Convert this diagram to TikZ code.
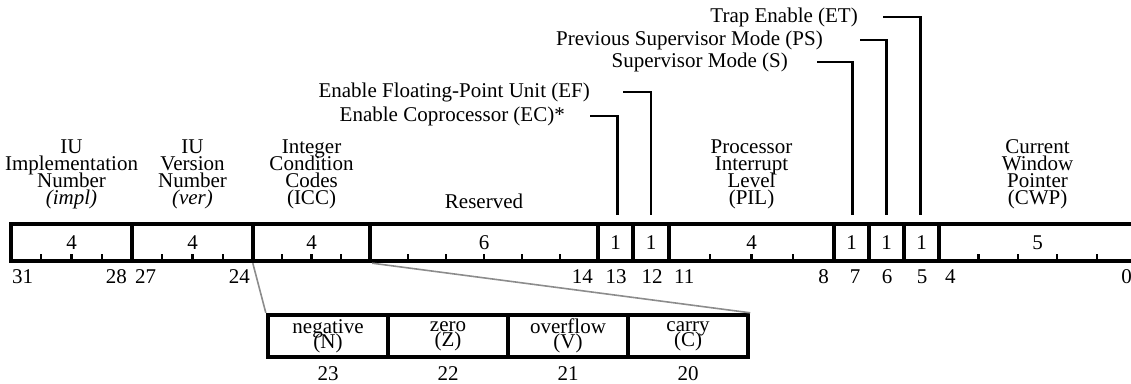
\documentclass[tikz,border=0pt]{standalone}
\usepackage{fontspec}
\setmainfont{Liberation Serif}
\setlength{\lineskiplimit}{-50pt}
\setlength{\lineskip}{0pt}
\begin{document}
\begin{tikzpicture}[x=1pt,y=-1pt,
  every node/.style={inner sep=0pt, font=\fontsize{21}{17}\selectfont},
  field/.style={draw, line width=4.4pt, minimum height=37pt},
  cell/.style={draw, line width=4.4pt, minimum height=42pt, minimum width=120pt, align=center,
    font=\fontsize{21}{15}\selectfont},
  title/.style={align=center, anchor=south},
  bitno/.style={anchor=base},
  tick/.style={line width=2.2pt},
  leader/.style={line width=2.2pt},
  zoomline/.style={line width=1.6pt, black!45}]
\useasboundingbox (0,0) rectangle (1131,383);

% register fields
\node[field, minimum width=121pt] (f1)   at (71.5,242.5)  {4};
\node[field, minimum width=121pt] (f2)   at (192.5,242.5) {4};
\node[field, minimum width=117pt] (f3)   at (311.5,242.5) {4};
\node[field, minimum width=228pt] (fr)   at (484,242.5)   {6};
\node[field, minimum width=35pt]  (b13)  at (615.5,242.5) {1};
\node[field, minimum width=36pt]  (b12)  at (651,242.5)   {1};
\node[field, minimum width=165pt] (fpil) at (751.5,242.5) {4};
\node[field, minimum width=35pt]  (b7)   at (851.5,242.5) {1};
\node[field, minimum width=35pt]  (b6)   at (886.5,242.5) {1};
\node[field, minimum width=35pt]  (b5)   at (921.5,242.5) {1};
\node[field, minimum width=197pt] (fcwp) at (1037.5,242.5) {5};

% ticks
\foreach \L/\R/\n in {11/132/4, 132/253/4, 253/370/4, 370/598/6, 669/834/4, 939/1136/5} {
  \pgfmathtruncatemacro\m{\n-1}
  \foreach \i in {1,...,\m} {
    \draw[tick] ({\L+\i*(\R-\L)/\n},261) -- ++(0,-7);
  }
}

% field titles
\node[title] (t1) at (71.5,209)  {IU\\Implementation\\Number\\\textit{(impl)}};
\node[title] (t2) at (192.5,209) {IU\\Version\\Number\\\textit{(ver)}};
\node[title] (t3) at (311.5,209) {Integer\\Condition\\Codes\\(ICC)};
\node[anchor=base] (tr) at (484,208) {Reserved};
\node[title] (tp) at (751.5,209) {Processor\\Interrupt\\Level\\(PIL)};
\node[title] (tc) at (1037.5,209) {Current\\Window\\Pointer\\(CWP)};

% bit numbers
\node[anchor=base west] (n31) at (12,283) {31};
\node[anchor=base east] (n28) at (127,283) {28};
\node[anchor=base west] (n27) at (135,283) {27};
\node[anchor=base east] (n24) at (250,283) {24};
\node[anchor=base east] (n14) at (593,283) {14};
\node[bitno] (n13) at (616,283) {13};
\node[bitno] (n12) at (652,283) {12};
\node[anchor=base west] (n11) at (674,283) {11};
\node[anchor=base east] (n8) at (829,283) {8};
\node[bitno] (n7) at (855,283) {7};
\node[bitno] (n6) at (887,283) {6};
\node[bitno] (n5) at (922,283) {5};
\node[anchor=base west] (n4) at (945,283) {4};
\node[anchor=base east] (n0) at (1132,283) {0};

% single-bit labels and leaders
\node[anchor=east] (lET) at (858,17)  {Trap Enable (ET)};
\node[anchor=east] (lPS) at (823,40)  {Previous Supervisor Mode (PS)};
\node[anchor=east] (lS)  at (788,62)  {Supervisor Mode (S)};
\node[anchor=east] (lEF) at (590,92)  {Enable Floating-Point Unit (EF)};
\node[anchor=east] (lEC) at (565,116) {Enable Coprocessor (EC)*};
\coordinate (sET) at (883,17);
\coordinate (sPS) at (860,40);
\coordinate (sS)  at (817,62);
\coordinate (sEF) at (623,92);
\coordinate (sEC) at (590,116);
\draw[leader] (sET) -| ([xshift=-1pt,yshift=7pt]b5.north);
\draw[leader] (sPS) -| ([yshift=7pt]b6.north);
\draw[leader] (sS)  -| ([xshift=1pt,yshift=7pt]b7.north);
\draw[leader] (sEF) -| ([yshift=7pt]b12.north);
\draw[leader] (sEC) -| ([xshift=2pt,yshift=7pt]b13.north);

% ICC expansion
\node[cell] (c23) at (328,336) {negative\\(N)};
\node[cell] (c22) at (448,336) {zero\\(Z)};
\node[cell] (c21) at (568,336) {overflow\\(V)};
\node[cell] (c20) at (688,336) {carry\\(C)};
\node[bitno] (m23) at (328,380) {23};
\node[bitno] (m22) at (448,380) {22};
\node[bitno] (m21) at (568,380) {21};
\node[bitno] (m20) at (688,380) {20};
\draw[zoomline] ([xshift=2pt]f3.south west) -- (c23.north west);
\draw[zoomline] (f3.south east) -- (c20.north east);
\end{tikzpicture}
\end{document}
